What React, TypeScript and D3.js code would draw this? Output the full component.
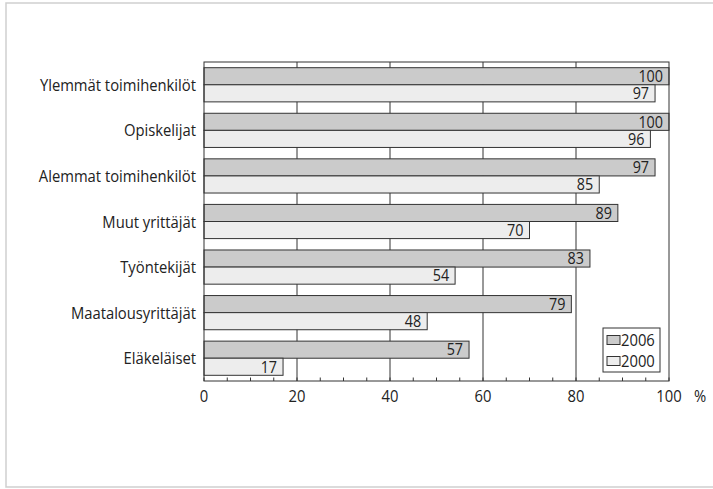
import React from "react";
import * as d3 from "d3";

const categories = [
  "Ylemmät toimihenkilöt",
  "Opiskelijat",
  "Alemmat toimihenkilöt",
  "Muut yrittäjät",
  "Työntekijät",
  "Maatalousyrittäjät",
  "Eläkeläiset",
];
const values2006 = [100, 100, 97, 89, 83, 79, 57];
const values2000 = [97, 96, 85, 70, 54, 48, 17];
const seriesNames = ["2006", "2000"];
const xTicks = [0, 20, 40, 60, 80, 100];
const minorTicks = d3.range(0, 101, 5);

const W = 713;
const H = 489;
const left = 204;
const right = 669;
const top = 62;
const bottom = 381;
const FONT = "'Open Sans', sans-serif";
const SX = 0.87;
const fills = ["#cbcbcb", "#ededed"];

function T({ x, y, size, anchor = "start", dy = "0", children }: any) {
  return (
    <text
      transform={`translate(${x},${y}) scale(${SX},1)`}
      dy={dy}
      textAnchor={anchor}
      fontSize={size}
      fill="#222"
    >
      {children}
    </text>
  );
}

export default function App() {
  const x = d3.scaleLinear().domain([0, 100]).range([left, right]);
  const y = d3.scaleBand<string>().domain(categories).range([top, bottom]).paddingInner(0.25).paddingOuter(0.125);
  const inner = d3.scaleBand<string>().domain(seriesNames).range([0, y.bandwidth()]);
  const series = [values2006, values2000];

  return (
    <svg width={W} height={H} style={{ position: "fixed", left: 0, top: 0, background: "#fff" }} fontFamily={FONT}>
      <rect x={6} y={3} width={W + 10} height={484} fill="none" stroke="#cfcfcf" strokeWidth={1.5} />
      {xTicks.slice(1, -1).map((t) => (
        <line key={t} x1={x(t)} x2={x(t)} y1={top} y2={bottom} stroke="#333" strokeWidth={1} />
      ))}
      {categories.map((c, i) => (
        <g key={c}>
          {series.map((vals, s) => {
            const y0 = (y(c) as number) + (inner(seriesNames[s]) as number);
            const h = inner.bandwidth();
            return (
              <g key={s}>
                <rect x={x(0)} y={y0} width={x(vals[i]) - x(0)} height={h} fill={fills[s]} stroke="#333" strokeWidth={1} />
                <T x={x(vals[i]) - 6} y={y0 + h / 2} dy="0.35em" anchor="end" size={16.5}>
                  {vals[i]}
                </T>
              </g>
            );
          })}
          <T x={196} y={(y(c) as number) + y.bandwidth() / 2} dy="0.36em" anchor="end" size={17}>
            {c}
          </T>
        </g>
      ))}
      <rect x={left} y={top} width={right - left} height={bottom - top} fill="none" stroke="#333" strokeWidth={1} />
      {minorTicks.map((t) => (
        <line key={t} x1={x(t)} x2={x(t)} y1={bottom} y2={bottom - 3.5} stroke="#333" strokeWidth={1} />
      ))}
      {xTicks.map((t) => (
        <T key={t} x={x(t)} y={402} anchor="middle" size={17}>
          {t}
        </T>
      ))}
      <T x={700} y={402} anchor="middle" size={17}>%</T>
      <rect x={603} y={328} width={57} height={44} fill="#fff" stroke="#333" strokeWidth={1} />
      {seriesNames.map((n, s) => (
        <g key={n}>
          <rect x={607} y={340 + s * 21 - 4.5} width={13} height={9} fill={fills[s]} stroke="#333" strokeWidth={1} />
          <T x={621} y={340 + s * 21} dy="0.36em" size={17}>{n}</T>
        </g>
      ))}
    </svg>
  );
}
